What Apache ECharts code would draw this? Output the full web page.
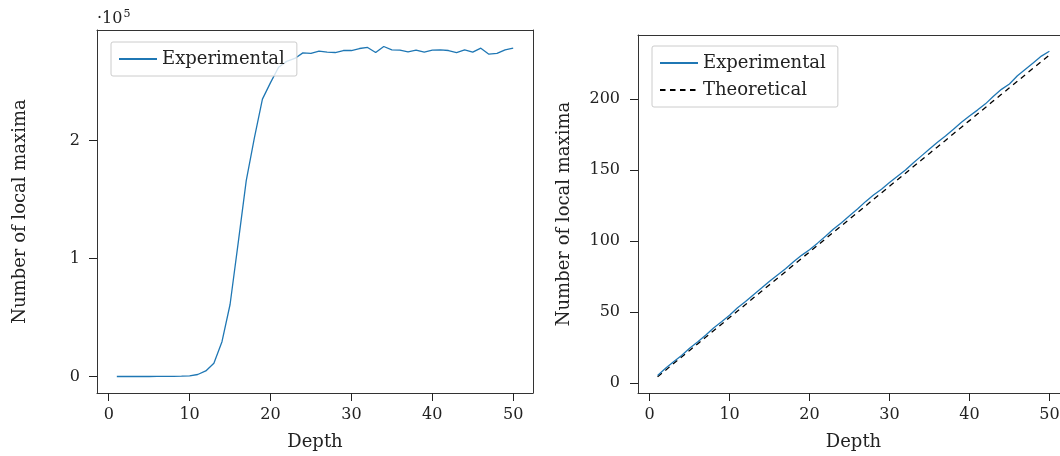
<!DOCTYPE html>
<html>
<head>
<meta charset="utf-8">
<script src="https://cdn.jsdelivr.net/npm/echarts@6/dist/echarts.min.js"></script>
<style>
html,body{margin:0;padding:0;background:#fff;}
#c{width:1060px;height:456px;}
</style>
</head>
<body>
<div id="c"></div>
<script>
const depth = [1,2,3,4,5,6,7,8,9,10,11,12,13,14,15,16,17,18,19,20,21,22,23,24,25,26,27,28,29,30,31,32,33,34,35,36,37,38,39,40,41,42,43,44,45,46,47,48,49,50];
const leftExperimental = [1,2,4,9,17,35,70,140,290,600,1700,4700,11300,29500,61000,113000,166000,202000,235000,249000,262000,267000,269500,274200,273700,275700,274800,274500,276200,276200,277900,278800,274500,279600,276800,276500,275100,276500,274800,276500,276800,276200,274500,276800,274800,278200,273100,273700,276800,278200];
const rightExperimental = [5.5,10.5,15.2,19.6,24.6,29.0,33.8,38.9,43.3,47.8,53.2,57.5,62.3,67.0,71.8,76.2,80.6,85.5,90.0,94.0,98.6,103.5,108.5,113.0,117.8,122.6,127.8,132.4,136.5,141.2,145.6,150.0,155.2,160.0,164.8,169.6,174.0,178.8,183.6,188.0,192.2,196.6,202.0,206.8,210.6,216.4,221.0,225.5,230.2,233.6];
const rightTheoretical = [4.6,9.2,13.9,18.5,23.1,27.7,32.3,37.0,41.6,46.2,50.8,55.4,60.1,64.7,69.3,73.9,78.5,83.2,87.8,92.4,97.0,101.6,106.3,110.9,115.5,120.1,124.7,129.4,134.0,138.6,143.2,147.8,152.5,157.1,161.7,166.3,170.9,175.6,180.2,184.8,189.4,194.0,198.7,203.3,207.9,212.5,217.1,221.8,226.4,231.0];
const xTicks = [0,10,20,30,40,50];
const leftYTicks = [0,100000,200000];
const rightYTicks = [0,50,100,150,200];
const xName = 'Depth';
const yName = 'Number of local maxima';
const seriesNames = ['Experimental','Theoretical'];

const FONT = 'DejaVu Serif';
const BLUE = '#1f77b4';
const FRAME = '#333';
const txt = {fontFamily: FONT, fontSize: 16, color: '#222'};
const nameTxt = {fontFamily: FONT, fontSize: 18, color: '#222'};
const XMIN = -1.45, XMAX = 52.45;
const LYMIN = -13980, LYMAX = 293580;
const RYMIN = -6.85, RYMAX = 245.05;

function pairs(xs, ys){ return xs.map((x,i)=>[x, ys[i]]); }

function xAxis(gi){
  return {
    type:'value', gridIndex:gi, min:XMIN, max:XMAX, position:'bottom',
    name:xName, nameLocation:'middle', nameGap:40,
    nameTextStyle:nameTxt,
    axisLine:{show:true, onZero:false, lineStyle:{color:FRAME, width:1}},
    axisTick:{show:true, inside:false, length:8, customValues:xTicks, lineStyle:{color:'#222', width:1}},
    axisLabel:Object.assign({customValues:xTicks, margin:14}, txt),
    splitLine:{show:false}
  };
}
function frameAxis(gi, min, max, pos){
  return {
    type:'value', gridIndex:gi, min:min, max:max, position:pos,
    axisLine:{show:true, onZero:false, lineStyle:{color:FRAME, width:1}},
    axisTick:{show:false}, axisLabel:{show:false}, splitLine:{show:false}
  };
}

const legendBase = {
  orient:'vertical', itemWidth:38, itemHeight:14, itemGap:9,
  padding:[8,12,8,7], backgroundColor:'rgba(255,255,255,0.8)', borderColor:'#ccc', borderWidth:1, borderRadius:2,
  textStyle:{fontFamily:FONT, fontSize:18, color:'#222'},
  itemStyle:{opacity:0}
};

const chart = echarts.init(document.getElementById('c'), null, {renderer:'canvas'});
chart.setOption({
  animation:false,
  backgroundColor:'#fff',
  grid:[
    {left:97, top:30, width:436, height:363, show:false, containLabel:false, outerBoundsMode:'none'},
    {left:638, top:35, width:431, height:358, show:false, containLabel:false, outerBoundsMode:'none'}
  ],
  xAxis:[
    xAxis(0), xAxis(1),
    frameAxis(0, XMIN, XMAX, 'top'),
    frameAxis(1, XMIN, XMAX, 'top')
  ],
  yAxis:[
    {type:'value', gridIndex:0, min:LYMIN, max:LYMAX, position:'left',
     name:yName, nameLocation:'middle', nameGap:68, nameTextStyle:nameTxt,
     axisLine:{show:true, onZero:false, lineStyle:{color:FRAME, width:1}},
     axisTick:{show:true, inside:false, length:8, customValues:leftYTicks, lineStyle:{color:'#222'}},
     axisLabel:Object.assign({customValues:leftYTicks, margin:17, formatter:v=>String(Math.round(v/100000))}, txt),
     splitLine:{show:false}},
    {type:'value', gridIndex:1, min:RYMIN, max:RYMAX, position:'left',
     name:yName, nameLocation:'middle', nameGap:65, nameTextStyle:nameTxt,
     axisLine:{show:true, onZero:false, lineStyle:{color:FRAME, width:1}},
     axisTick:{show:true, inside:false, length:8, customValues:rightYTicks, lineStyle:{color:'#222'}},
     axisLabel:Object.assign({customValues:rightYTicks, margin:18}, txt),
     splitLine:{show:false}},
    frameAxis(0, LYMIN, LYMAX, 'right')
  ],
  legend:[
    Object.assign({data:[seriesNames[0]], left:111, top:42}, legendBase),
    Object.assign({data:seriesNames, left:652, top:46}, legendBase)
  ],
  series:[
    {name:seriesNames[0], type:'line', xAxisIndex:0, yAxisIndex:0, data:pairs(depth,leftExperimental),
     symbol:'none', lineStyle:{color:BLUE, width:1.3}, itemStyle:{color:BLUE}, z:1},
    {name:seriesNames[0], type:'line', xAxisIndex:1, yAxisIndex:1, data:pairs(depth,rightExperimental),
     symbol:'none', lineStyle:{color:BLUE, width:1.3}, itemStyle:{color:BLUE}, z:2},
    {name:seriesNames[1], type:'line', xAxisIndex:1, yAxisIndex:1, data:pairs(depth,rightTheoretical),
     symbol:'none', lineStyle:{color:'#000', width:1.3, type:[5.5,4.5]}, itemStyle:{color:'#000'}, z:1}
  ],
  graphic:[
    {type:'text', left:97, top:9, z:10,
     style:{text:'{a|·10}{s|5}', rich:{a:{fontFamily:FONT, fontSize:16, fill:'#222'}, s:{fontFamily:FONT, fontSize:11, fill:'#222', padding:[0,0,9,1]}}}}
  ]
});
</script>
</body>
</html>
